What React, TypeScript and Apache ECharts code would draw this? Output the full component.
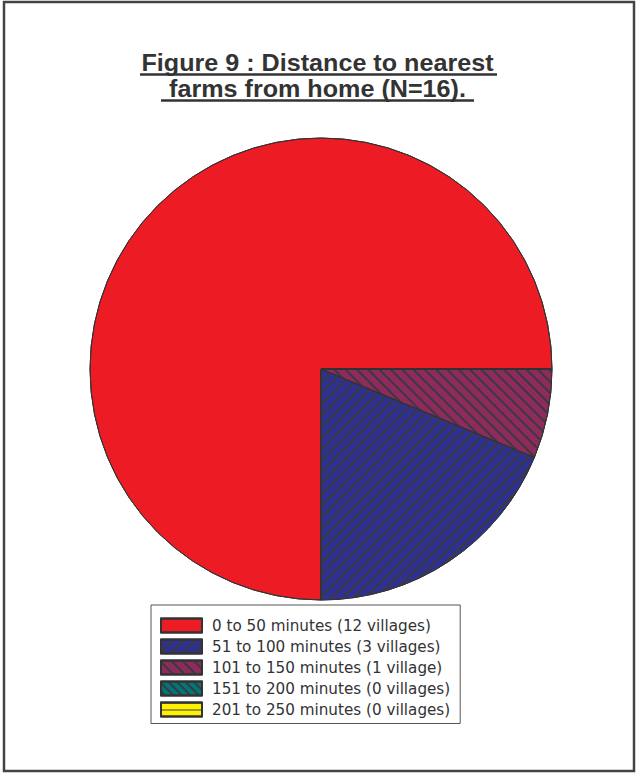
import React, { useEffect, useRef } from "react";
import * as echarts from "echarts";

const categories = [
  "0 to 50 minutes (12 villages)",
  "51 to 100 minutes (3 villages)",
  "101 to 150 minutes (1 village)",
  "151 to 200 minutes (0 villages)",
  "201 to 250 minutes (0 villages)",
];
const villages = [12, 3, 1, 0, 0];
const colors = ["#ED1C24", "#2E3192", "#8E2A5E", "#00757A", "#FFF200"];
const titleLines = ["Figure 9 : Distance to nearest", "farms from home (N=16)."];

const lineColor = "#3a3a3a";
const decals: any[] = [
  undefined,
  { symbol: "rect", color: lineColor, dashArrayX: [1, 0], dashArrayY: [1.5, 5.5], rotation: -Math.PI / 4, symbolSize: 1 },
  { symbol: "rect", color: lineColor, dashArrayX: [1, 0], dashArrayY: [1.5, 5.5], rotation: Math.PI / 4, symbolSize: 1 },
  { symbol: "rect", color: lineColor, dashArrayX: [1, 0], dashArrayY: [1.5, 4], rotation: Math.PI / 4, symbolSize: 1 },
  { symbol: "rect", color: lineColor, dashArrayX: [1, 0], dashArrayY: [1, 6], rotation: 0, symbolSize: 1 },
];

export default function App() {
  const ref = useRef<HTMLDivElement>(null);
  useEffect(() => {
    document.body.style.margin = "0";
    const chart = echarts.init(ref.current!, null, { renderer: "svg" });
    const font = "'Liberation Sans', Arial, Helvetica, sans-serif";
    chart.setOption({
      animation: false,
      backgroundColor: "#ffffff",
      legend: {
        orient: "vertical",
        left: 151,
        top: 605,
        width: 312,
        padding: [12.5, 10, 6, 9],
        backgroundColor: "#ffffff",
        borderColor: "#555555",
        borderWidth: 1,
        itemWidth: 41,
        itemHeight: 14,
        itemGap: 5,
        icon: "rect",
        selectedMode: false,
        textStyle: {
          fontFamily: "'DejaVu Sans', sans-serif",
          fontSize: 15.2,
          lineHeight: 14,
          color: "#333333",
          padding: [0, 0, 0, 5],
        },
        data: categories,
      },
      graphic: [
        {
          type: "rect",
          shape: { x: 4, y: 2, width: 630, height: 769 },
          style: { fill: "none", stroke: "#444444", lineWidth: 2.5 },
          silent: true,
        },
        {
          type: "text",
          x: 317.5,
          y: 62.5,
          scaleX: 1.07,
          style: { text: titleLines[0], font: `bold 23.5px ${font}`, fill: "#333333", textAlign: "center", textVerticalAlign: "middle" },
        },
        {
          type: "text",
          x: 317.5,
          y: 89,
          scaleX: 1.07,
          style: { text: titleLines[1], font: `bold 23.5px ${font}`, fill: "#333333", textAlign: "center", textVerticalAlign: "middle" },
        },
        { type: "line", shape: { x1: 140, y1: 74.5, x2: 497, y2: 74.5 }, style: { stroke: "#333333", lineWidth: 2.5 } },
        { type: "line", shape: { x1: 161, y1: 100.5, x2: 474, y2: 100.5 }, style: { stroke: "#333333", lineWidth: 2.5 } },
      ],
      series: [
        {
          type: "pie",
          center: [321, 369],
          radius: [0, 231],
          startAngle: 0,
          clockwise: false,
          label: { show: false },
          labelLine: { show: false },
          emphasis: { disabled: true },
          stillShowZeroSum: true,
          data: categories.map((c, i) => ({
            name: c,
            value: villages[i],
            itemStyle: {
              color: colors[i],
              borderColor: "#333333",
              borderWidth: 1,
              decal: decals[i] || { symbol: "none" },
            },
          })),
        },
      ],
    });
    return () => chart.dispose();
  }, []);
  return <div ref={ref} style={{ width: 636, height: 773, position: "absolute", left: 0, top: 0 }} />;
}
